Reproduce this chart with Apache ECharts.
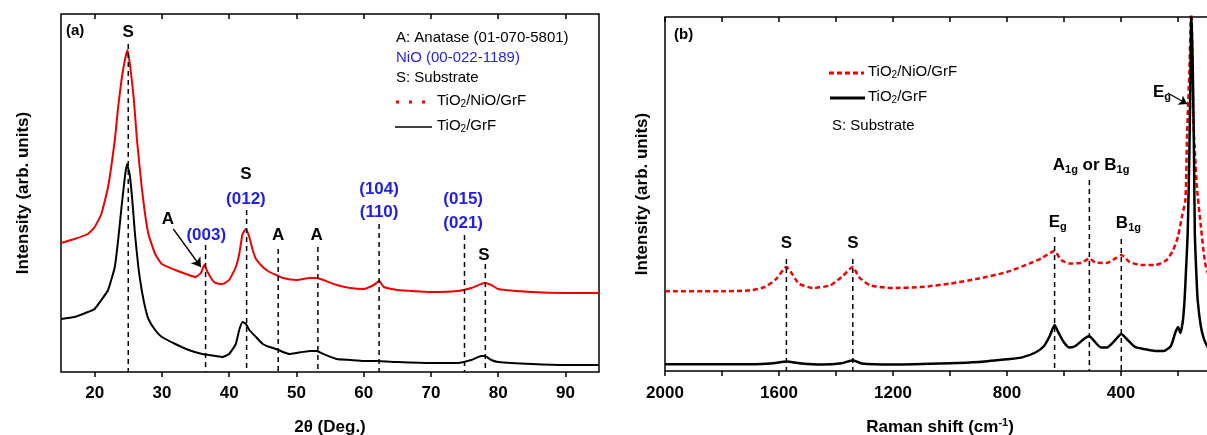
<!DOCTYPE html>
<html><head><meta charset="utf-8">
<script src="https://cdn.jsdelivr.net/npm/echarts@6/dist/echarts.min.js"></script>
<style>html,body{margin:0;padding:0;background:#fff}#c{width:1207px;height:435px}</style>
</head><body><div id="c"></div>
<script>
// ---------- Panel (a): XRD ----------
const xrdTicks = [20, 30, 40, 50, 60, 70, 80, 90];
const xrdBlackX = [15,17,19,20,21,22,23,23.5,24,24.5,24.8,25.2,25.6,26,26.5,27,27.5,28,29,30,32,34,36,37,38,39,40,41,41.5,42,42.5,43,44,45,46,47,48,49,50,52,53,54,56,58,60,62,65,70,74,76,77.5,78,79,80,85,90,95];
const xrdBlackY = [53,55,60,63,72,82,105,132,165,195,208,198,172,138,105,82,65,53,42,35,28,22,18,17,16,15,18,28,42,50,48,42,35,28,25,23,20,18,19,21,21,18,13,12,11,11,10,9,9,12,16,16,12,10,8,7,7];
const xrdRedX = [15,17,19,20,21,22,23,23.5,24,24.5,24.9,25.3,25.8,26.3,27,27.5,28,29,30,32,34,35,35.8,36.3,36.8,37.5,38,39,40,41,41.5,42,42.5,43,43.5,44,45,46,47,48,50,52,53,54,56,58,60,61.5,62.3,63,65,70,74,76,78,79,80,85,90,95];
const xrdRedY = [129,133,138,145,158,185,232,265,292,312,322,305,275,232,185,158,138,118,108,102,97,95,99,107,100,92,89,88,92,105,118,138,143,135,122,113,105,100,97,94,92,94,94,92,87,84,83,87,91,85,82,80,81,84,89,87,83,80,79,79];
const xrdVlineX = [25, 36.5, 42.6, 47.3, 53.2, 62.3, 75, 78.1];
const xrdVlineTop = [328, 127, 162, 123, 125, 148, 137, 108];
const xrdLabelX = [25, 30.9, 36.6, 42.5, 42.5, 47.3, 53.0, 62.3, 62.3, 74.8, 74.8, 77.9];
const xrdLabelY = [340, 153, 137, 198, 173, 137, 137, 183, 160, 173, 149, 117];
const xrdLabelText = ['S', 'A', '(003)', 'S', '(012)', 'A', 'A', '(104)', '(110)', '(015)', '(021)', 'S'];
const xrdLabelBlue = [false, false, true, false, true, false, false, true, true, true, true, false];
const xrdArrow = [[31.7, 143], [35.8, 105]];

// ---------- Panel (b): Raman ----------
const ramanMajorTicks = [2000, 1600, 1200, 800, 400];
const ramanMinorTicks = [2000, 1800, 1600, 1400, 1200, 1000, 800, 600, 400, 200];
const ramanBlackX = [2000,1700,1620,1574,1520,1450,1380,1341,1310,1200,1000,900,800,750,700,670,650,633,620,600,580,560,530,511,500,470,450,420,399,380,350,320,280,250,225,210,200,192,183,177,172,166,160,156,153,148,144,141,136,131,120,110,98,80,50,0];
const ramanBlackY = [6.7,6.7,7.7,9.4,7.4,6.4,7.7,10.8,7.4,6.4,7.7,9,11.8,13.4,18.5,25,35,46,38.7,28.6,23.5,25,32,35,32,23.5,23.5,31,37,32,24,22,20,20,25,38,44,38,50,71,100,138,220,300,362,300,220,138,100,71,45,33,25,18,12,10];
const ramanRedX = [2000,1800,1700,1650,1610,1574,1555,1530,1480,1420,1380,1341,1320,1280,1200,1100,1000,900,800,720,680,633,610,580,540,511,490,450,420,399,370,330,280,240,217,200,185,174,168,160,155,153,150,146,140,134,120,106,98,80,40,0];
const ramanRedY = [79.7,79.7,80.7,84,92,104,97.5,87.4,83,85.7,94,104,94,85.7,83,84,87.4,92.4,99,107.6,112.6,120,111,107.6,108,112.6,108.4,108,112.6,116,109,106,106,111,121,134.5,156,171,238,300,354,362,320,250,215,185,145,110,100,90,83,80];
const ramanVlineX = [1574, 1341, 633, 511, 399];
const ramanVlineTop = [112, 112, 134, 191, 132];
const ramanLabelX = [1574, 1341, 622, 505, 374, 256];
const ramanLabelY = [128, 128, 149, 206, 148, 279];
const ramanLabelText = ['S', 'S', 'E{sub|g}', 'A{sub|1g} or B{sub|1g}', 'B{sub|1g}', 'E{sub|g}'];
const ramanArrow = [[236, 278], [168, 267]];

// ---------- build ----------
const FONT = 'Liberation Sans, Arial, sans-serif';
const BLUE = '#1f1fe6';
const RED = '#ee0000';
const INK = '#000';
const zip = (xs, ys) => xs.map((x, i) => [x, ys[i]]);
const subRich = {
  sub: { fontSize: 11, fontWeight: 'bold', fontFamily: FONT, color: INK, padding: [9, 0, 0, 0] }
};

const series = [];
series.push({ type: 'line', xAxisIndex: 0, yAxisIndex: 0, data: zip(xrdRedX, xrdRedY), showSymbol: false,
  lineStyle: { color: RED, width: 2 }, smooth: 0.15, z: 3 });
series.push({ type: 'line', xAxisIndex: 0, yAxisIndex: 0, data: zip(xrdBlackX, xrdBlackY), showSymbol: false,
  lineStyle: { color: INK, width: 2 }, smooth: 0.15, z: 3 });
series.push({ type: 'line', xAxisIndex: 2, yAxisIndex: 1, data: zip(ramanRedX, ramanRedY), showSymbol: false,
  lineStyle: { color: RED, width: 2.5, type: [5, 3] }, smooth: 0.2, z: 3 });
series.push({ type: 'line', xAxisIndex: 2, yAxisIndex: 1, data: zip(ramanBlackX, ramanBlackY), showSymbol: false,
  lineStyle: { color: INK, width: 2.5 }, smooth: 0.2, z: 3 });
xrdVlineX.forEach((x, i) => series.push({ type: 'line', xAxisIndex: 0, yAxisIndex: 0,
  data: [[x, xrdVlineTop[i]], [x, 0]], showSymbol: false, lineStyle: { color: INK, width: 1.5, type: [5, 4] }, z: 4 }));
ramanVlineX.forEach((x, i) => series.push({ type: 'line', xAxisIndex: 2, yAxisIndex: 1,
  data: [[x, ramanVlineTop[i]], [x, 0]], showSymbol: false, lineStyle: { color: INK, width: 1.5, type: [5, 4] }, z: 4 }));
series.push({ type: 'scatter', xAxisIndex: 0, yAxisIndex: 0, symbolSize: 1, itemStyle: { color: 'rgba(0,0,0,0)', opacity: 1 }, z: 5,
  data: xrdLabelX.map((x, i) => ({ value: [x, xrdLabelY[i]], label: { show: true, position: 'inside', formatter: xrdLabelText[i],
    color: xrdLabelBlue[i] ? BLUE : INK, opacity: 1, fontSize: 17, fontWeight: 'bold', fontFamily: FONT } })),
  markLine: { silent: true, symbol: ['none', 'arrow'], symbolSize: 9, label: { show: false },
    lineStyle: { color: INK, width: 1.3, type: 'solid', opacity: 1 }, data: [[{ coord: xrdArrow[0] }, { coord: xrdArrow[1] }]] }
});
series.push({ type: 'scatter', xAxisIndex: 2, yAxisIndex: 1, symbolSize: 1, itemStyle: { color: 'rgba(0,0,0,0)', opacity: 1 }, z: 5,
  data: ramanLabelX.map((x, i) => ({ value: [x, ramanLabelY[i]], label: { show: true, position: 'inside', formatter: ramanLabelText[i],
    color: INK, opacity: 1, fontSize: 17, fontWeight: 'bold', fontFamily: FONT, rich: subRich } })),
  markLine: { silent: true, symbol: ['none', 'arrow'], symbolSize: 8, label: { show: false },
    lineStyle: { color: INK, width: 1.3, type: 'solid', opacity: 1 }, data: [[{ coord: ramanArrow[0] }, { coord: ramanArrow[1] }]] }
});

const tickLabel = { fontSize: 17, fontWeight: 'bold', fontFamily: FONT, color: INK, formatter: v => String(v) };
const nameStyle = { fontSize: 17, fontWeight: 'bold', fontFamily: FONT, color: INK };
const legendTxt = (t, x, y, col) => ({ type: 'text', left: x, top: y - 9, style: { text: t, fill: col || INK,
  font: '15px ' + FONT, rich: { s: { fontSize: 10, fontFamily: FONT, fill: col || INK, padding: [8, 0, 0, 0] } } } });

const option = {
  animation: false,
  backgroundColor: '#fff',
  grid: [
    { left: 61, top: 14, width: 538, height: 358, show: true, borderColor: INK, borderWidth: 1.5, backgroundColor: 'transparent', outerBoundsMode: 'none', containLabel: false },
    { left: 665, top: 17, width: 570, height: 354, show: true, borderColor: INK, borderWidth: 1.5, backgroundColor: 'transparent', outerBoundsMode: 'none', containLabel: false }
  ],
  xAxis: [
    { type: 'value', gridIndex: 0, min: 15, max: 95, position: 'bottom', axisLine: { show: false }, splitLine: { show: false },
      axisTick: { show: true, inside: false, length: 5, lineStyle: { color: INK, width: 1.5 }, customValues: xrdTicks },
      axisLabel: { ...tickLabel, margin: 13, customValues: xrdTicks },
      name: '2θ (Deg.)', nameLocation: 'middle', nameGap: 47, nameTextStyle: nameStyle },
    { type: 'value', gridIndex: 0, min: 15, max: 95, position: 'top', axisLine: { show: false }, splitLine: { show: false },
      axisTick: { show: true, inside: true, length: 5, lineStyle: { color: INK, width: 1.5 }, customValues: xrdTicks },
      axisLabel: { show: false } },
    { type: 'value', gridIndex: 1, min: 0, max: 2000, inverse: true, position: 'bottom', axisLine: { show: false }, splitLine: { show: false },
      axisTick: { show: true, inside: false, length: 5, lineStyle: { color: INK, width: 1.5 }, customValues: ramanMinorTicks },
      axisLabel: { ...tickLabel, margin: 14, customValues: ramanMajorTicks },
      name: 'Raman shift (cm{sup|-1})', nameLocation: 'middle', nameGap: 46,
      nameTextStyle: { ...nameStyle, padding: [0, 20, 0, 0], rich: { sup: { fontSize: 11, fontWeight: 'bold', fontFamily: FONT, color: INK, padding: [0, 0, 9, 0] } } } },
    { type: 'value', gridIndex: 1, min: 0, max: 2000, inverse: true, position: 'top', axisLine: { show: false }, splitLine: { show: false },
      axisTick: { show: true, inside: true, length: 5, lineStyle: { color: INK, width: 1.5 }, customValues: ramanMinorTicks },
      axisLabel: { show: false } }
  ],
  yAxis: [
    { type: 'value', gridIndex: 0, min: 0, max: 358, axisLine: { show: false }, axisTick: { show: false }, axisLabel: { show: false },
      splitLine: { show: false }, name: 'Intensity (arb. units)', nameLocation: 'middle', nameGap: 29, nameTextStyle: nameStyle },
    { type: 'value', gridIndex: 1, min: 0, max: 354, axisLine: { show: false }, axisTick: { show: false }, axisLabel: { show: false },
      splitLine: { show: false }, name: 'Intensity (arb. units)', nameLocation: 'middle', nameGap: 14, nameTextStyle: nameStyle }
  ],
  graphic: [
    { type: 'text', left: 66, top: 23, style: { text: '(a)', font: 'bold 15px ' + FONT, fill: INK } },
    { type: 'text', left: 674, top: 27, style: { text: '(b)', font: 'bold 15px ' + FONT, fill: INK } },
    legendTxt('A: Anatase (01-070-5801)', 396, 39),
    legendTxt('NiO (00-022-1189)', 396, 59, BLUE),
    legendTxt('S: Substrate', 396, 79),
    { type: 'line', shape: { x1: 396, y1: 102, x2: 426, y2: 102 }, style: { stroke: RED, lineWidth: 3, lineDash: [3, 10] } },
    legendTxt('TiO{s|2}/NiO/GrF', 437, 102),
    { type: 'line', shape: { x1: 395, y1: 127, x2: 432, y2: 127 }, style: { stroke: INK, lineWidth: 1.5 } },
    legendTxt('TiO{s|2}/GrF', 437, 127),
    { type: 'line', shape: { x1: 829, y1: 73, x2: 864, y2: 73 }, style: { stroke: RED, lineWidth: 3, lineDash: [5, 3] } },
    legendTxt('TiO{s|2}/NiO/GrF', 868, 73),
    { type: 'line', shape: { x1: 830, y1: 98, x2: 865, y2: 98 }, style: { stroke: INK, lineWidth: 3 } },
    legendTxt('TiO{s|2}/GrF', 868, 98),
    legendTxt('S: Substrate', 832, 127)
  ],
  series
};
const chart = echarts.init(document.getElementById('c'), null, { renderer: 'canvas' });
chart.setOption(option);
</script>
</body></html>
